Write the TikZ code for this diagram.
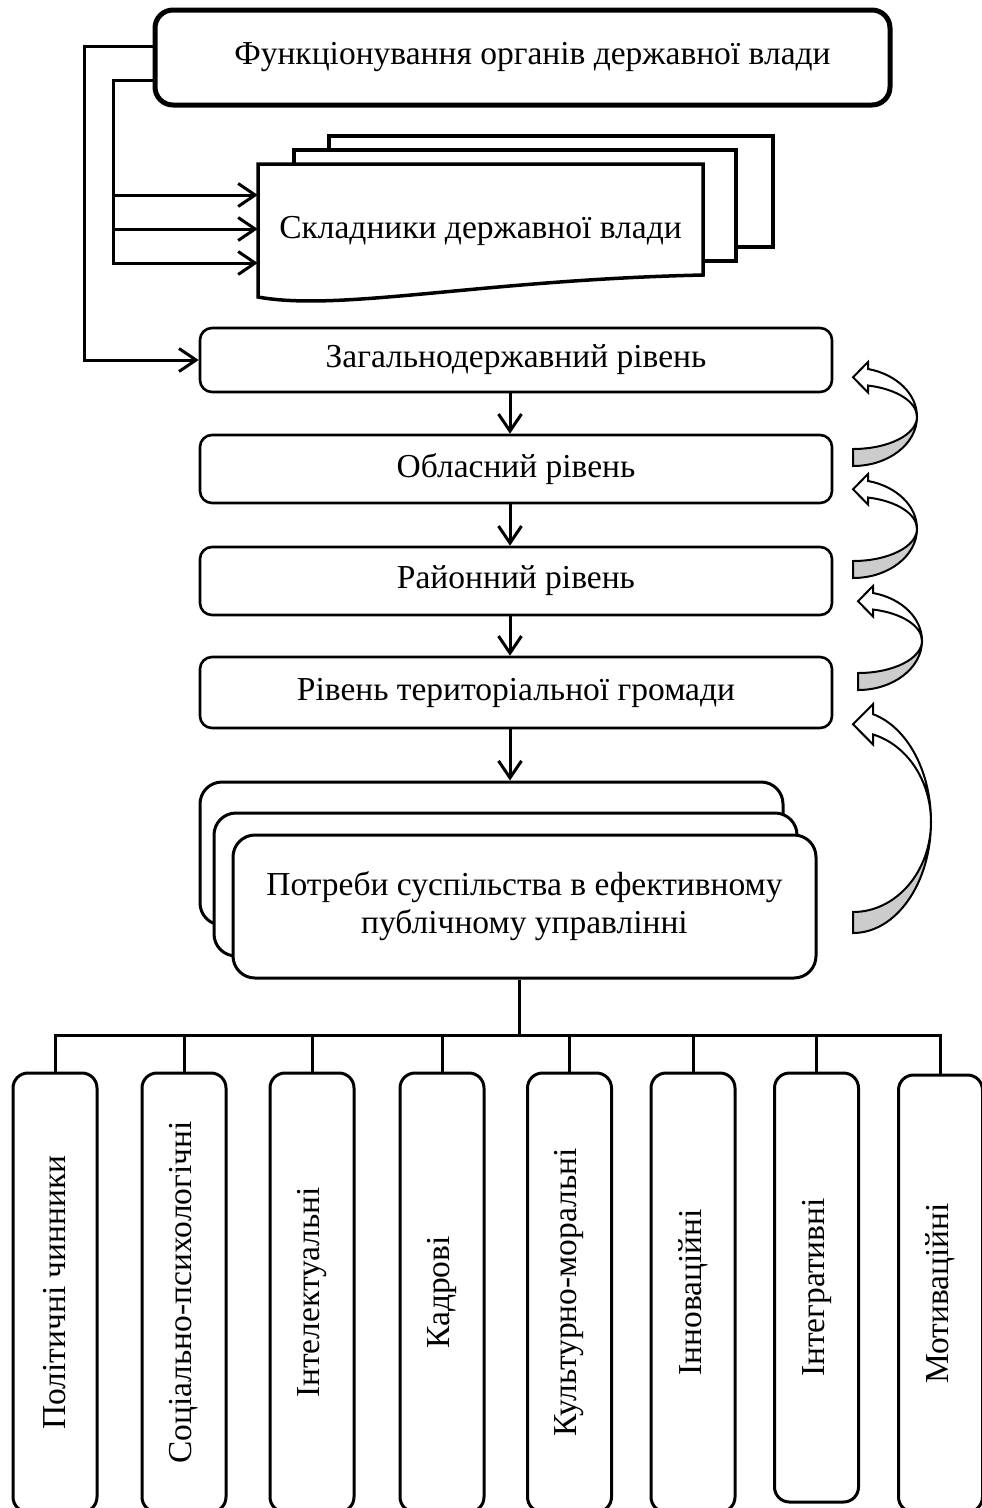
\documentclass[tikz,border=0pt]{standalone}
\usepackage{fontspec}
\setmainfont{Liberation Serif}
\usetikzlibrary{arrows.meta}
\newcommand\flipArrow[8]{%
  \pgfmathsetmacro\fbx{#1+#7}%
  \pgfmathsetmacro\foty{#2+#4*sin(#6)}%
  \pgfmathsetmacro\fity{#2+#5*sin(#6)}%
  \pgfmathsetmacro\ftipy{(\foty+\fity)/2}%
  \pgfmathsetmacro\fba{\foty-#8}%
  \pgfmathsetmacro\fbb{\fity+#8}%
  \filldraw[curv, fill=gray!40] (#1+#3,#2) arc[start angle=0,end angle=90,x radius=#3,y radius=#4]
     -- (#1,#2+#5) arc[start angle=90,end angle=0,x radius=#3,y radius=#5] -- cycle;
  \filldraw[curv, fill=white] (#1+#3,#2) arc[start angle=0,end angle=#6,x radius=#3,y radius=#4]
     -- (\fbx,\fba) -- (#1,\ftipy) -- (\fbx,\fbb) -- (\fbx,\fity)
     arc[start angle=#6,end angle=0,x radius=#3,y radius=#5] -- cycle;
}
\begin{document}
\begin{tikzpicture}[x=1pt,y=-1pt,
  txt/.style={font=\fontsize{33.5}{38}\selectfont},
  topbox/.style={draw, rounded corners=18pt, line width=5pt, inner sep=0pt, txt},
  lvl/.style={draw, fill=white, rounded corners=12pt, line width=2.6pt, minimum width=632pt, inner sep=0pt, txt},
  stk/.style={draw, fill=white, rounded corners=22pt, line width=3pt, minimum width=583pt, minimum height=143pt, inner sep=0pt, txt},
  fbox/.style={draw, fill=white, rounded corners=15pt, line width=3pt, minimum width=84pt, inner sep=0pt, txt},
  docline/.style={line width=3.5pt, fill=white, line join=miter},
  conn/.style={line width=3pt},
  arr/.style={conn, -{Straight Barb[length=17pt,width=23pt]}},
  curv/.style={line width=2pt, line join=miter}]
\useasboundingbox (0,0) rectangle (982,1508);

% top box
\node[topbox, minimum width=735pt, minimum height=95pt] (top) at (522.5,57.5) {\hspace*{20pt}Функціонування органів державної влади};

% document stack
\draw[docline] (329,136) rectangle (773,247);
\draw[docline] (294,150) rectangle (736,261);
\draw[docline] (258,164) -- (703,164) -- (703,275) .. controls (480,280) and (340,312) .. (258,297) -- cycle;
\node[txt, minimum width=445pt, minimum height=133pt, inner sep=0pt] (doc) at (480.5,230.5) {Складники державної влади};

% levels
\node[lvl, minimum height=64pt] (l1) at (516,360) {Загальнодержавний рівень};
\node[lvl, minimum height=68pt] (l2) at (516,469) {Обласний рівень};
\node[lvl, minimum height=68pt] (l3) at (516,581) {Районний рівень};
\node[lvl, minimum height=71pt] (l4) at (516,692.5) {Рівень територіальної громади};

% stacked boxes
\node[stk] (s3) at (491.5,853.5) {};
\node[stk] (s2) at (505.5,884.5) {};
\node[stk, align=center] (s1) at (524.5,906.5) {Потреби суспільства в ефективному\\публічному управлінні};

% bottom boxes
\node[fbox, minimum height=439pt] (f1) at (55,1292.5) {\rotatebox{90}{Політичні чинники}};
\node[fbox, minimum height=439pt] (f2) at (184,1292.5) {\rotatebox{90}{Соціально-психологічні}};
\node[fbox, minimum height=439pt] (f3) at (312,1292.5) {\rotatebox{90}{Інтелектуальні}};
\node[fbox, minimum height=439pt] (f4) at (442,1292.5) {\rotatebox{90}{Кадрові}};
\node[fbox, minimum height=439pt] (f5) at (569.5,1292.5) {\rotatebox{90}{Культурно-моральні}};
\node[fbox, minimum height=439pt] (f6) at (693,1292.5) {\rotatebox{90}{Інноваційні}};
\node[fbox, minimum height=429pt] (f7) at (816.5,1287.5) {\rotatebox{90}{Інтегративні}};
\node[fbox, minimum height=437pt] (f8) at (940.5,1293.5) {\rotatebox{90}{Мотиваційні}};

% helper coordinates
\coordinate (ax) at (510,0);
\coordinate (bx) at (519,0);
\coordinate (busy) at (0,1035);
\coordinate (o1) at (84,360);
\coordinate (i1) at (113,263);

% left connectors
\draw[arr] (top.west |- 0,46) -| (o1) -- (l1.west);
\draw[arr] (top.west |- 0,80) -| (i1) -- (doc.west |- i1);
\draw[arr] (i1 |- 0,195) -- (doc.west |- 0,195);
\draw[arr] (i1 |- 0,229) -- (doc.west |- 0,229);

% vertical arrows
\draw[arr] (l1.south -| ax) -- (l2.north -| ax);
\draw[arr] (l2.south -| ax) -- (l3.north -| ax);
\draw[arr] (l3.south -| ax) -- (l4.north -| ax);
\draw[arr] (l4.south -| ax) -- (s3.north -| ax);

% bus
\draw[conn] (s1.south -| bx) -- (bx |- busy);
\draw[conn] (f1.north) |- (f8.north |- busy) -- (f8.north);
\foreach \n in {f2,f3,f4,f5,f6,f7}{\draw[conn] (\n.north) -- (\n.north |- busy);}

% curved arrows
\flipArrow{853}{416.8}{64}{49.2}{32.2}{-76.4}{15}{7}
\flipArrow{853}{528.8}{64}{49.2}{32.2}{-76.4}{15}{7}
\flipArrow{858}{640.8}{64}{49.2}{32.2}{-76.4}{15}{7}
\flipArrow{853}{821.7}{78}{111.3}{90.3}{-75.1}{20}{10}
\end{tikzpicture}
\end{document}
